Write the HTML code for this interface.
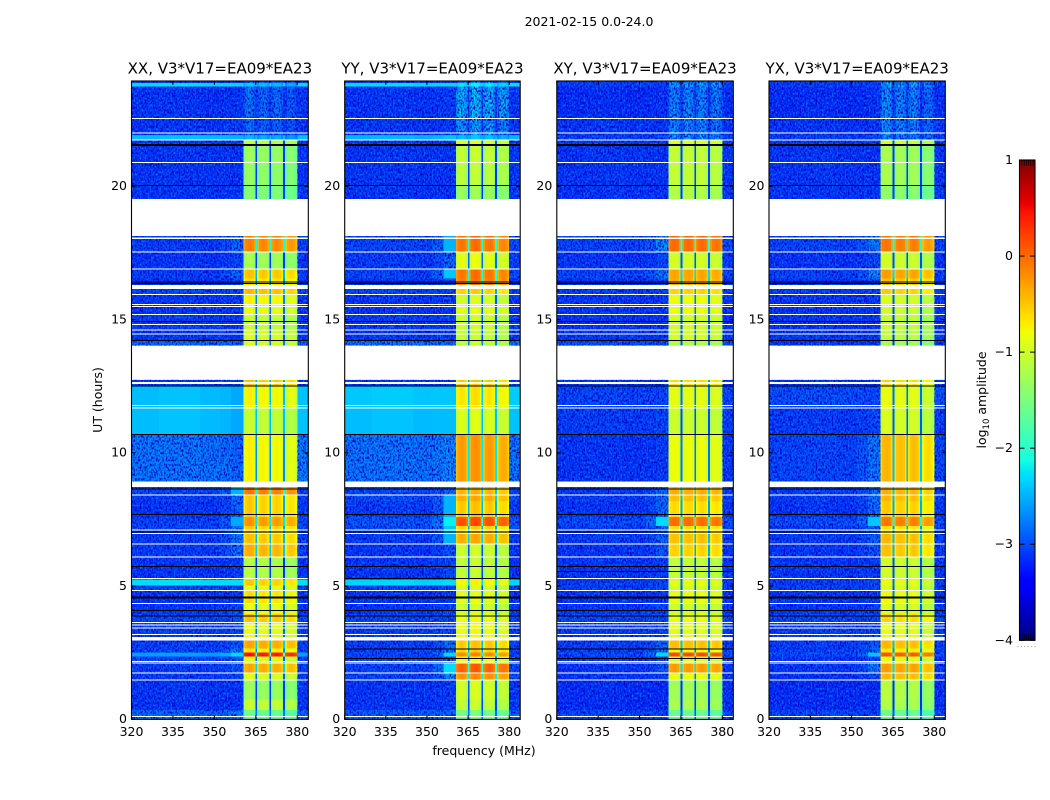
<!DOCTYPE html>
<html lang="en">
<head>
<meta charset="utf-8">
<title>2021-02-15 0.0-24.0</title>
<style>
html,body{margin:0;padding:0;background:#fff;}
svg{display:block;}
text{font-family:"DejaVu Sans","Liberation Sans",sans-serif;fill:#000;}
</style>
</head>
<body>
<svg id="chart" xmlns="http://www.w3.org/2000/svg" width="1050" height="800" viewBox="0 0 1050 800">
<defs>
<filter id="speckle-dark" x="0" y="0" width="100%" height="100%" color-interpolation-filters="sRGB">
<feTurbulence type="fractalNoise" baseFrequency="0.62 0.42" numOctaves="1" seed="4"/>
<feColorMatrix type="matrix" values="0 0 0 0 0  0 0 0 0 0.02  0 0 0 0 0.78  4 0 0 0 -1.7"/>
</filter>
<filter id="speckle-light" x="0" y="0" width="100%" height="100%" color-interpolation-filters="sRGB">
<feTurbulence type="fractalNoise" baseFrequency="0.62 0.42" numOctaves="1" seed="11"/>
<feColorMatrix type="matrix" values="0 0 0 0 0  0 0 0 0 0.45  0 0 0 0 1  4 0 0 0 -2.05"/>
</filter>
<linearGradient id="jet-gradient" x1="0" y1="1" x2="0" y2="0"></linearGradient>
</defs>
<rect x="0" y="0" width="1050" height="800" fill="#fff"/>
<text x="589" y="26" font-size="12.5" text-anchor="middle">2021-02-15 0.0-24.0</text>
<text x="484" y="755" font-size="12.5" text-anchor="middle">frequency (MHz)</text>
<text x="102" y="400" font-size="12.5" text-anchor="middle" transform="rotate(-90 102 400)">UT (hours)</text>
<text x="986" y="400" font-size="12.5" text-anchor="middle" transform="rotate(-90 986 400)">log<tspan font-size="8.5" dy="3">10</tspan><tspan dy="-3"> amplitude</tspan></text>
</svg>
<script>
// ---- time rows (UT hours) ----
const timeEdges = [0,.35,.75,1.47,1.73,2.11,2.35,2.5,2.65,2.95,3.63,3.95,4.35,4.84,5.02,5.24,6.08,6.57,6.98,7.25,7.6,8.2,8.41,8.71,8.92,10.69,11.68,12.5,12.74,14.02,14.22,14.6,15.19,15.56,15.93,16.15,16.3,16.55,16.9,17.53,18.13,19.53,20.03,20.89,21.55,21.73,21.92,22.53,23.74,23.88,23.95];

// ---- log10 amplitude per time row: background, shoulder (356-360.5 MHz), RFI band ----
const xxBackground = [-2.8,-3.1,-3.1,-3.05,-3.05,-3,-2.6,-3,-3.05,-3.05,-3,-3.1,-3.1,-3,-2.3,-3.1,-3.05,-3.05,-3,-3,-3.1,-3.05,-3,null,-2.7,-2.45,-2.45,-3.1,null,-2.8,-3.1,-3.05,-3.1,-3.1,-3,null,-3.1,-3.05,-3.1,-3.05,null,-3.1,-3.1,-3.1,-3.05,-2.45,-3.1,-3.1,-2.3,-3.05];
const xxShoulder = [-2.7,-3.1,-3.1,-3,-2.9,-2.9,-2.3,-2.7,-2.9,-3,-2.9,-3,-3.05,-3,-2.3,-3.05,-2.75,-2.7,-2.7,-2.55,-2.8,-2.8,-2.5,null,-2.8,-2.55,-2.55,-3.05,null,-2.8,-3.1,-3.05,-3.1,-3.05,-3,null,-3,-2.8,-3,-2.8,null,-3.1,-3.1,-3.1,-3.05,-2.5,-3.05,-3.1,-2.3,-3.05];
const xxRfi = [-1.6,-1.05,-1.3,-.9,-.35,-.9,.45,-.7,-.35,-.85,-.5,-.85,-.65,-.85,-.55,-1.15,-.4,-.5,-.55,-.25,-.55,-.55,-.1,null,-.75,-1.05,-.75,-.5,null,-.95,-.95,-1.05,-.85,-.75,-.45,null,-.65,-.5,-1.25,-.15,null,-1.45,-1.35,-1.3,-1.1,-2.5,-2.8,-2.75,-2.4,-2.7];

const yyBackground = [-2.85,-3.1,-3.1,-3,-3,-3,-3,-3.05,-3.05,-3.05,-3,-3.1,-3.1,-3,-2.35,-3.1,-3.1,-3.05,-2.95,-2.9,-3.05,-2.95,-3,null,-2.7,-2.45,-2.4,-3.1,null,-2.75,-3.1,-3.05,-3.1,-3.1,-3,null,-3.1,-3,-3.05,-3,null,-3.1,-3.1,-3.1,-3.05,-2.5,-3.1,-3.1,-2.3,-3.05];
const yyShoulder = [-2.8,-3.05,-3.05,-2.6,-2.3,-2.9,-2.3,-2.7,-2.75,-3,-2.95,-3,-3.05,-3,-2.3,-3,-2.95,-2.5,-2.4,-2.2,-2.5,-2.5,-2.8,null,-2.6,-2.45,-2.4,-3.05,null,-2.75,-3.1,-3.05,-3.1,-3.05,-3,null,-3,-2.4,-2.8,-2.5,null,-3.1,-3.1,-3.1,-3.05,-2.4,-3.05,-3.05,-2.3,-3.05];
const yyRfi = [-1.5,-1.05,-.95,-.2,.05,-.8,-.15,-.55,-.5,-.8,-.8,-1,-.85,-.95,-.75,-1.05,-1,-.35,-.55,.15,-.5,-.35,-.4,null,-.25,-.9,-.65,-.5,null,-1.05,-1.05,-1,-.85,-.95,-.55,null,-.1,-.05,-.85,-.05,null,-1.3,-1.1,-1.05,-.9,-2.4,-2.5,-2.35,-2.2,-2.5];

const xyBackground = [-3,-3.15,-3.15,-3.1,-3.1,-3.1,-2.95,-3.05,-3.05,-3.05,-3,-3.1,-3.1,-3.05,-3.05,-3.1,-3.1,-3.05,-3.05,-2.95,-3.1,-3.05,-3.05,null,-3.1,-3.05,-3,-3.1,null,-2.95,-3.1,-3.1,-3.1,-3.1,-3.05,null,-3.1,-3,-3.1,-3,null,-3.1,-3.1,-3.1,-3.05,-3.05,-3.1,-3.15,-3.05,-3.05];
const xyShoulder = [-3,-3.15,-3.15,-3,-2.9,-3,-2.3,-2.7,-2.8,-3,-3,-3,-3.05,-3,-3,-3.05,-2.9,-2.8,-2.8,-2.3,-2.8,-2.8,-2.8,null,-3.05,-3,-3,-3.1,null,-2.95,-3.1,-3.1,-3.1,-3.05,-3,null,-3,-2.7,-3,-2.6,null,-3.1,-3.1,-3.1,-3.05,-3,-3.1,-3.1,-3.05,-3.05];
const xyRfi = [-1.6,-1.2,-1.25,-.8,-.25,-.9,.2,-.75,-.45,-.85,-.8,-1,-.8,-.95,-.85,-1.05,-.55,-.45,-.6,0,-.6,-.45,-.35,null,-.8,-1,-.85,-.6,null,-1.15,-.95,-.95,-.8,-.8,-.55,null,-.35,-.3,-.95,0,null,-1.15,-1.05,-1.05,-.85,-2.5,-2.6,-2.6,-2.4,-2.6];

const yxBackground = [-3,-3.15,-3.15,-3.1,-3.1,-3.1,-2.95,-3.05,-3.05,-3.05,-3,-3.1,-3.1,-3.05,-3.05,-3.1,-3.1,-3.05,-3.05,-2.95,-3.1,-3.05,-3.05,null,-3,-3.05,-2.95,-3.1,null,-3.1,-3.1,-3.1,-3.1,-3.1,-3.05,null,-3.1,-3,-3.1,-3,null,-3.1,-3.1,-3.1,-3.05,-3.05,-3.1,-3.15,-3.05,-3.05];
const yxShoulder = [-3,-3.15,-3.15,-3,-2.7,-3,-2.4,-2.8,-2.9,-3,-3,-3,-3.05,-3,-3,-3.05,-2.9,-2.85,-2.85,-2.4,-2.75,-2.75,-2.8,null,-2.7,-3,-3,-3.1,null,-3.1,-3.1,-3.1,-3.1,-3.05,-3,null,-3,-2.6,-3,-2.7,null,-3.1,-3.1,-3.1,-3.05,-3,-3.1,-3.1,-3.05,-3.05];
const yxRfi = [-1.6,-1.2,-1.15,-.45,-.3,-.85,.1,-.7,-.45,-.85,-.6,-.95,-.8,-.95,-.85,-1,-.5,-.45,-.65,-.1,-.55,-.45,-.4,null,-.45,-.95,-.85,-.6,null,-1.25,-1.1,-1.05,-1,-.95,-.55,null,-.5,-.3,-1,-.1,null,-1.4,-1.25,-1.25,-1,-2.6,-2.6,-2.6,-2.4,-2.6];

// ---- frequency channels (MHz): groups and bandpass offsets relative to the row level ----
const freqEdges = [320,330,345,352,356,360.5,361.1,362,363.4,364.3,364.9,365.5,366.1,367,368.4,369.3,369.9,370.5,371.1,372,373.3,374.2,374.8,375.6,376.2,377.1,378.5,379.4,380,384];
const channelKinds = ['b','b','b','g','s','r','r','r','r','r','n','r','r','r','r','r','n','r','r','r','r','r','n','r','r','r','r','r','b'];
const channelOffsets = [0,.06,-.02,0,0,-.2,-.05,0,-.05,-.2,-2,-.2,-.05,0,-.05,-.2,-2,-.2,-.05,0,-.05,-.2,-2,-.2,-.05,0,-.05,-.2,.05];
const channelSubbands = [0,0,0,0,0,0,0,0,0,0,0,1,1,1,1,1,1,2,2,2,2,2,2,3,3,3,3,3,3];
const xxSubbandTilt = [.05,0,0,-.1];
const yySubbandTilt = [0,.05,0,-.1];
const xySubbandTilt = [0,0,0,-.05];
const yxSubbandTilt = [.05,0,0,-.15];

// ---- flagged times (UT hours) ----
const flagGapStarts = [.08,1.45,1.71,2.1,2.16,2.95,3.17,3.42,3.53,3.62,4.34,4.83,5.27,6.07,6.56,6.97,7.09,8.4,8.71,11.67,11.76,12.58,14.45,14.59,14.8,15.18,15.48,15.55,15.92,16.15,16.89,17.52,18.02,20.88,21.72,21.98,22.52];
const flagGapEnds = [.12,1.5,1.75,2.13,2.19,3.09,3.2,3.45,3.56,3.65,4.37,4.86,5.3,6.1,6.59,7,7.12,8.43,8.92,11.7,11.79,12.65,14.48,14.62,14.83,15.21,15.51,15.58,15.95,16.3,16.92,17.55,18.07,20.91,21.75,22.01,22.56];
const blackLineTimes = [3.88,4.09,4.55,4.59,5.73,7.03,7.69,8.65,10.69,12.5,14.22,14.93,16.36,16.4,20.03,21.53,21.57];
const xxExtraLines = [];
const yyExtraLines = [2.29,2.63,5.28];
const xyExtraLines = [2.29,2.63,5.55];
const yxExtraLines = [];

// ---- axes ticks ----
const panelTitles = ['XX, V3*V17=EA09*EA23','YY, V3*V17=EA09*EA23','XY, V3*V17=EA09*EA23','YX, V3*V17=EA09*EA23'];
const panelKeys = ['xx','yy','xy','yx'];
const freqTicks = [320,335,350,365,380];
const timeTicks = [0,5,10,15,20];
const colorbarTicks = [1,0,-1,-2,-3,-4];

const backgrounds = [xxBackground,yyBackground,xyBackground,yxBackground];
const shoulders = [xxShoulder,yyShoulder,xyShoulder,yxShoulder];
const rfiLevels = [xxRfi,yyRfi,xyRfi,yxRfi];
const subbandTilts = [xxSubbandTilt,yySubbandTilt,xySubbandTilt,yxSubbandTilt];
const extraLines = [xxExtraLines,yyExtraLines,xyExtraLines,yxExtraLines];

const SVGNS = 'http://www.w3.org/2000/svg';
const svg = document.getElementById('chart');
const panelLeft = [131.5,344.7,556.8,769];
const panelRight = [308.3,520.2,733.3,945.3];
const plotTop = 81;
const plotBottom = 719.4;

function make(tag, attrs, parent){
  const node = document.createElementNS(SVGNS, tag);
  for (const k in attrs) node.setAttribute(k, attrs[k]);
  (parent || svg).appendChild(node);
  return node;
}
function timeY(h){ return 719.3 - h * 26.65; }
function freqX(panel, f){ return panelLeft[panel] + (f - 320) / 64 * (panelRight[panel] - panelLeft[panel]); }
function lerp(points, t){
  for (let i = 1; i < points.length; i++){
    if (t <= points[i][0]){
      const a = points[i-1], b = points[i];
      return a[1] + (b[1]-a[1]) * (t-a[0]) / (b[0]-a[0]);
    }
  }
  return points[points.length-1][1];
}
const jetR = [[0,0],[.35,0],[.66,1],[.89,1],[1,.5]];
const jetG = [[0,0],[.125,0],[.375,1],[.64,1],[.91,0],[1,0]];
const jetB = [[0,.5],[.11,1],[.34,1],[.65,0],[1,0]];
function jet(t){
  t = Math.max(0, Math.min(1, t));
  return 'rgb(' + Math.round(255*lerp(jetR,t)) + ',' + Math.round(255*lerp(jetG,t)) + ',' + Math.round(255*lerp(jetB,t)) + ')';
}
function colorOf(v){ return jet((v + 4) / 5); }

function drawPanel(p){
  const x0 = panelLeft[p], x1 = panelRight[p];
  const group = make('g', {});
  
  

  const clip = make('clipPath', {id:'speckle-clip-' + p}, group);
  
  

  const cells = make('g', {'shape-rendering':'crispEdges'}, group);
  
  

  for (let r = 0; r < timeEdges.length - 1; r++){
    const bg = backgrounds[p][r], sh = shoulders[p][r], rfi = rfiLevels[p][r];
    if (bg === null) continue;
    const yTop = timeY(timeEdges[r+1]), yBot = timeY(timeEdges[r]);
    for (let c = 0; c < channelKinds.length; c++){
      const kind = channelKinds[c];
      let v;
      if (kind === 'b') v = bg + channelOffsets[c] * (bg > -2.6 ? .5 : .3);
      else if (kind === 's') v = sh;
      else if (kind === 'g') v = bg * .7 + sh * .3;
      else if (kind === 'n') v = Math.max(rfi + channelOffsets[c], bg);
      else v = rfi + channelOffsets[c] + subbandTilts[p][channelSubbands[c]];
      const xa = freqX(p, freqEdges[c]), xb = freqX(p, freqEdges[c+1]);
      const cell = make('rect', {x:xa.toFixed(2), y:yTop.toFixed(2), width:(xb-xa).toFixed(2), height:(yBot-yTop).toFixed(2), fill:colorOf(v)}, cells);
      
      
    }
    // noisy texture only where the data is near the noise floor
    if (bg < -2.65){
      const rfiDim = rfi < -2.15;
      const leftEnd = sh > bg + .4 ? 356 : 360.5;
      const xa = x0, xb = rfiDim ? x1 : freqX(p, leftEnd);
      const left = make('rect', {x:xa, y:yTop, width:xb-xa, height:yBot-yTop}, clip);
      
      
      const xr = freqX(p, 380);
      const right = make('rect', {x:xr, y:yTop, width:x1-xr, height:yBot-yTop}, clip);
      
      
    }
  }

  const speckles = make('g', {'clip-path':'url(#speckle-clip-' + p + ')'}, group);
  
  
  const dark = make('rect', {x:x0, y:plotTop, width:x1-x0, height:plotBottom-plotTop, filter:'url(#speckle-dark)'}, speckles);
  
  
  const light = make('rect', {x:x0, y:plotTop, width:x1-x0, height:plotBottom-plotTop, filter:'url(#speckle-light)'}, speckles);
  
  

  const flags = make('g', {'shape-rendering':'crispEdges'}, group);
  
  
  for (let i = 0; i < flagGapStarts.length; i++){
    const gapTop = timeY(flagGapEnds[i]), gapBot = timeY(flagGapStarts[i]);
    const gap = make('rect', {x:x0, y:gapTop.toFixed(2), width:x1-x0, height:Math.max(1,gapBot-gapTop).toFixed(2), fill:'#fff'}, flags);
    
    
  }
  blackLineTimes.concat(extraLines[p]).forEach(function(h){
    const line = make('rect', {x:x0, y:(timeY(h)-0.5).toFixed(2), width:x1-x0, height:1, fill:'#000'}, flags);
    
    
  });

  const frame = make('rect', {x:x0, y:plotTop, width:x1-x0, height:plotBottom-plotTop, fill:'none', stroke:'#000', 'stroke-width':1.1}, group);
  
  

  freqTicks.forEach(function(f){
    const x = freqX(p, f);
    const bottom = make('line', {x1:x, x2:x, y1:plotBottom, y2:plotBottom-4, stroke:'#000', 'stroke-width':1}, group);
    
    
    const top = make('line', {x1:x, x2:x, y1:plotTop, y2:plotTop+4, stroke:'#000', 'stroke-width':1}, group);
    
    
    const label = make('text', {x:x, y:736, 'font-size':12.5, 'text-anchor':'middle'}, group);
    label.textContent = f;
    
    
  });
  timeTicks.forEach(function(h){
    const y = timeY(h);
    const leftTick = make('line', {x1:x0, x2:x0+4, y1:y, y2:y, stroke:'#000', 'stroke-width':1}, group);
    
    
    const rightTick = make('line', {x1:x1, x2:x1-4, y1:y, y2:y, stroke:'#000', 'stroke-width':1}, group);
    
    
    const label = make('text', {x:x0-4.5, y:y+3.8, 'font-size':12.5, 'text-anchor':'end'}, group);
    label.textContent = h;
    
    
  });

  const title = make('text', {x:(x0+x1)/2, y:73.5, 'font-size':15, 'text-anchor':'middle'}, group);
  title.textContent = panelTitles[p];
  
  
}
for (let p = 0; p < 4; p++) drawPanel(p);

// ---- colorbar ----
const cbLeft = 1019.5, cbRight = 1035, cbTop = 160, cbBottom = 640.3;
function colorbarY(v){ return cbBottom - (v + 4) / 5 * (cbBottom - cbTop); }
const gradient = document.getElementById('jet-gradient');
[0,.11,.125,.34,.35,.375,.64,.65,.66,.89,.91,1].forEach(function(t){
  const stop = document.createElementNS(SVGNS, 'stop');
  stop.setAttribute('offset', t);
  stop.setAttribute('stop-color', jet(t));
  gradient.appendChild(stop);
});
const colorbar = make('g', {});


const ramp = make('rect', {x:cbLeft, y:cbTop, width:cbRight-cbLeft, height:cbBottom-cbTop, fill:'url(#jet-gradient)', stroke:'#000', 'stroke-width':1.1}, colorbar);


colorbarTicks.forEach(function(v){
  const y = colorbarY(v);
  const leftTick = make('line', {x1:cbLeft, x2:cbLeft+5, y1:y, y2:y, stroke:'#000', 'stroke-width':1}, colorbar);
  
  
  const rightTick = make('line', {x1:cbRight, x2:cbRight-5, y1:y, y2:y, stroke:'#000', 'stroke-width':1}, colorbar);
  
  
  const label = make('text', {x:1013, y:y+4, 'font-size':12.5, 'text-anchor':'end'}, colorbar);
  label.textContent = v < 0 ? '\u2212' + (-v) : String(v);
  
  
});
for (let i = 0; i < 6; i++){
  const x = cbLeft + 2.5 + i * 2.2;
  const topMinor = make('line', {x1:x, x2:x, y1:cbTop, y2:cbTop+6, stroke:'#000', 'stroke-width':.7}, colorbar);
  
  
  const bottomMinor = make('line', {x1:x, x2:x, y1:cbBottom, y2:cbBottom-6, stroke:'#000', 'stroke-width':.7}, colorbar);
  
  
  const dot = make('rect', {x:1017.5 + i * 3.4, y:646, width:1, height:1, fill:'#999'}, colorbar);
  
  
}
</script>
</body>
</html>
